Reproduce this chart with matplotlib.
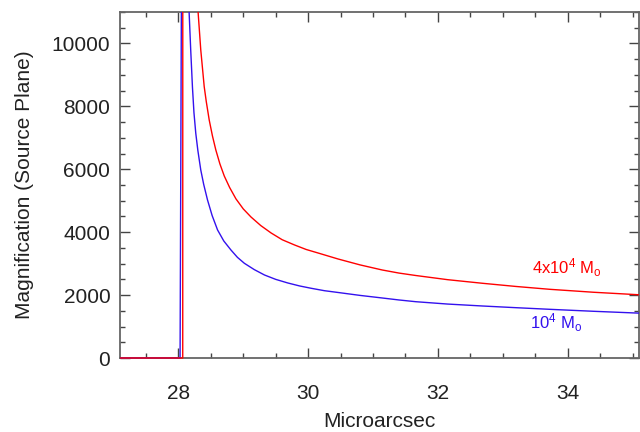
import matplotlib
matplotlib.use("Agg")
import matplotlib.pyplot as plt
from matplotlib.ticker import MultipleLocator
from matplotlib.transforms import Bbox, TransformedBbox

plt.rcParams['font.family'] = ['Liberation Sans', 'DejaVu Sans']
plt.rcParams['mathtext.fontset'] = 'custom'
plt.rcParams['mathtext.rm'] = 'Liberation Sans'
plt.rcParams['mathtext.it'] = 'Liberation Sans:italic'

# Blue curve (10^4 Msun)
x_blue = [27.1, 28.026, 28.06, 28.166, 28.190, 28.217, 28.24, 28.268, 28.30, 28.345,
          28.39, 28.449, 28.52, 28.604, 28.70, 28.810, 28.91, 29.017, 29.17, 29.327,
          29.5, 29.687, 29.87, 30.048, 30.25, 30.461, 30.8, 31.142, 31.4, 31.658,
          32.15, 32.690, 33.2, 33.723, 34.4, 35.163]
y_blue = [0, 0, 19000, 10960, 9793, 8600, 7800, 7145, 6600, 5978,
          5520, 5024, 4530, 4070, 3720, 3434, 3200, 3011, 2810, 2639,
          2500, 2385, 2290, 2216, 2140, 2083, 1990, 1908, 1845, 1790,
          1715, 1653, 1600, 1548, 1485, 1421]

# Red curve (4x10^4 Msun)
x_red = [27.1, 28.067, 28.07, 28.305, 28.345, 28.398, 28.43, 28.475, 28.525, 28.577,
         28.64, 28.707, 28.79, 28.887, 29.0, 29.119, 29.27, 29.429, 29.6, 29.791,
         29.97, 30.152, 30.461, 30.8, 31.142, 31.4, 31.658, 32.15, 32.690, 33.2,
         33.723, 34.4, 35.163]
y_red = [0, 0, 40000, 10960, 9793, 8627, 8150, 7568, 7060, 6614,
         6170, 5787, 5420, 5060, 4740, 4483, 4210, 3975, 3760, 3593,
         3450, 3339, 3148, 2960, 2798, 2700, 2623, 2490, 2375, 2275,
         2184, 2090, 2003]

label_red = r'4x10$^{4}$ M$_{\rm o}$'
label_blue = r'10$^{4}$ M$_{\rm o}$'

fig = plt.figure(figsize=(6.4, 4.32), dpi=100)
ax = fig.add_axes([120/640, 1-358/432, 519/640, 346/432])

blue_c = '#3311ee'
red_c = '#ff0000'
clip = TransformedBbox(Bbox([[0, -0.02], [1, 1]]), ax.transAxes)
lb, = ax.plot(x_blue, y_blue, color=blue_c, lw=1.0, zorder=3)
lr, = ax.plot(x_red, y_red, color=red_c, lw=1.0, zorder=3)
for ln in (lb, lr):
    ln.set_clip_box(clip)

ax.set_xlim(27.1, 35.1)
ax.set_ylim(0, 11000)

ax.xaxis.set_major_locator(MultipleLocator(2))
ax.xaxis.set_minor_locator(MultipleLocator(0.5))
ax.yaxis.set_major_locator(MultipleLocator(2000))
ax.yaxis.set_minor_locator(MultipleLocator(500))

axcol = '#666666'
for s in ax.spines.values():
    s.set_color(axcol)
    s.set_linewidth(1.3)

ax.tick_params(which='both', direction='in', top=True, right=True, color='#444444', width=1.0)
ax.tick_params(which='major', length=7.5)
ax.tick_params(which='minor', length=3.6)
ax.tick_params(axis='x', which='major', labelsize=15, pad=18.5, labelcolor='#222222')
ax.tick_params(axis='y', which='major', labelsize=15, pad=7, labelcolor='#222222')

ax.set_xlabel('Microarcsec', fontsize=15, color='#222222', labelpad=7)
ax.set_ylabel('Magnification (Source Plane)', fontsize=15, color='#222222', labelpad=13)

ax.text(33.45, 2862, label_red, color=red_c, fontsize=12, va='center', ha='left')
ax.text(33.42, 1113, label_blue, color=blue_c, fontsize=12, va='center', ha='left')

fig.savefig('out.png', dpi=100)
